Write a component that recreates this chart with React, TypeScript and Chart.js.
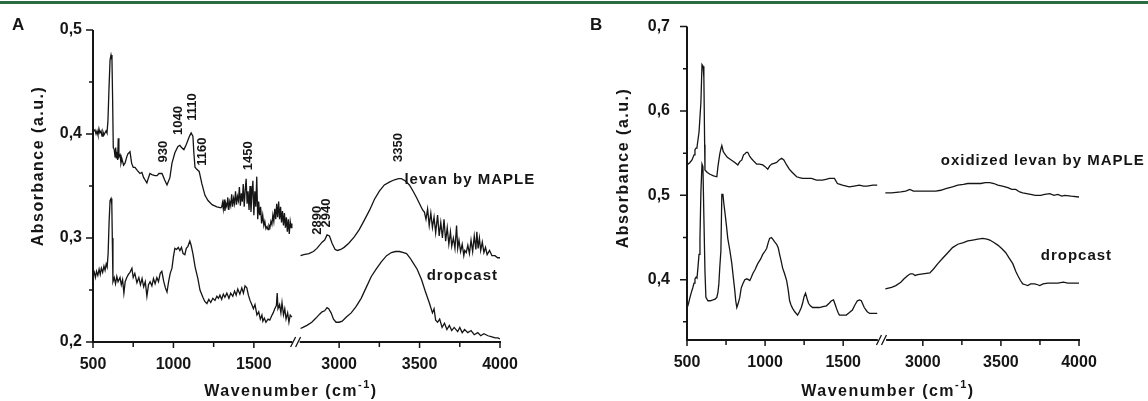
import React, { useEffect, useRef } from "react";
import { Chart, registerables } from "chart.js";
Chart.register(...registerables);

// ---------- DATA (wavenumber cm-1, absorbance a.u.) ----------
const aMapleLeft: [number, number][] = [
  [500,.402],[512,.404],[519,.400],[525,.403],[531,.399],[537,.405],[543,.401],[550,.403],[556,.398],[562,.402],[568,.399],[574,.401],[581,.403],[587,.401],[593,.413],[599,.442],[606,.471],[612,.476],[618,.471],[622,.433],[626,.387],[632,.385],[637,.378],[641,.387],[645,.377],[649,.383],[653,.375],[657,.396],[661,.378],[668,.380],[674,.372],[680,.376],[690,.370],[699,.372],[710,.378],[717,.381],[730,.383],[740,.372],[750,.368],[761,.368],[775,.365],[792,.362],[804,.363],[815,.358],[823,.356],[835,.353],[845,.358],[854,.362],[866,.361],[885,.360],[898,.360],[910,.362],[929,.362],[945,.356],[960,.351],[966,.351],[978,.358],[991,.372],[1009,.382],[1028,.388],[1040,.389],[1050,.387],[1065,.385],[1080,.390],[1100,.398],[1110,.401],[1121,.398],[1127,.382],[1134,.368],[1145,.366],[1160,.364],[1177,.352],[1196,.341],[1215,.336],[1240,.332],[1270,.330],[1295,.329],
  [1300,.330],[1305,.334],[1310,.328],[1315,.337],[1320,.326],[1326,.333],[1332,.330],[1338,.339],[1344,.327],[1350,.335],[1356,.331],[1362,.342],[1368,.330],[1374,.338],[1380,.333],[1386,.345],[1392,.332],[1398,.340],[1404,.336],[1410,.349],[1416,.331],[1422,.343],[1428,.335],[1434,.352],[1440,.330],[1446,.346],[1452,.357],[1458,.333],[1464,.345],[1470,.327],[1476,.350],[1482,.325],[1488,.342],[1494,.355],[1500,.322],[1506,.345],[1512,.330],[1518,.359],[1524,.318],[1530,.335],[1536,.322],[1542,.330],[1548,.314],[1555,.322],[1562,.312],[1568,.316],[1575,.309],[1582,.311],[1588,.308],[1594,.312],[1600,.310],[1606,.316],[1612,.313],[1618,.322],[1624,.316],[1630,.328],[1636,.318],[1642,.333],[1648,.320],[1654,.335],[1660,.318],[1666,.330],[1672,.315],[1678,.326],[1684,.312],[1690,.324],[1696,.310],[1702,.320],[1708,.306],[1714,.318],[1720,.304],[1726,.316],[1732,.310],[1736,.314],
];
const aMapleRight: [number, number][] = [
  [2760,.283],[2780,.284],[2812,.285],[2840,.287],[2862,.290],[2894,.296],[2910,.298],[2925,.303],[2940,.302],[2956,.295],[2975,.289],[2990,.288],[3010,.289],[3031,.291],[3060,.295],[3094,.301],[3125,.308],[3156,.317],[3190,.327],[3219,.337],[3250,.345],[3281,.351],[3315,.354],[3344,.356],[3370,.357],[3387,.357],[3410,.355],[3437,.351],[3460,.345],[3481,.339],[3500,.333],[3519,.327],
  [3530,.325],[3540,.318],[3550,.328],[3560,.312],[3570,.324],[3580,.310],[3590,.320],[3600,.305],[3612,.322],[3622,.302],[3632,.315],[3642,.300],[3652,.318],[3662,.297],[3672,.310],[3682,.294],[3692,.306],[3700,.292],[3710,.300],[3720,.290],[3730,.312],[3737,.290],[3745,.298],[3755,.287],[3765,.294],[3775,.283],[3781,.288],[3790,.286],[3800,.293],[3810,.285],[3820,.298],[3830,.287],[3840,.302],[3850,.289],[3856,.306],[3864,.290],[3872,.300],[3880,.288],[3890,.296],[3900,.286],[3910,.291],[3920,.284],[3935,.288],[3950,.283],[3969,.283],[3985,.281],[4000,.281],
];
const aDropLeft: [number, number][] = [
  [500,.263],[508,.267],[515,.262],[522,.268],[530,.264],[538,.270],[545,.265],[552,.271],[560,.267],[568,.273],[575,.269],[582,.275],[588,.272],[594,.285],[600,.315],[606,.336],[612,.338],[617,.332],[620,.300],[624,.258],[632,.262],[640,.256],[648,.263],[656,.258],[668,.262],[676,.255],[684,.260],[692,.247],[700,.258],[710,.262],[720,.265],[730,.267],[742,.271],[750,.262],[760,.266],[773,.257],[785,.262],[795,.255],[805,.261],[815,.253],[825,.258],[835,.244],[845,.255],[855,.258],[866,.254],[876,.261],[886,.256],[897,.262],[907,.258],[918,.266],[928,.268],[940,.258],[950,.252],[960,.248],[970,.258],[980,.266],[991,.271],[1000,.282],[1009,.290],[1020,.289],[1030,.291],[1040,.288],[1050,.291],[1060,.285],[1071,.284],[1080,.290],[1090,.292],[1102,.297],[1110,.293],[1121,.285],[1135,.272],[1152,.261],[1165,.250],[1183,.243],[1195,.239],[1208,.237],[1220,.241],[1232,.238],[1245,.242],[1258,.240],[1270,.244],[1280,.242],[1289,.245],[1300,.241],[1310,.246],[1320,.243],[1332,.247],[1345,.242],[1356,.247],[1369,.244],[1380,.249],[1390,.245],[1400,.251],[1413,.246],[1425,.252],[1435,.247],[1445,.254],[1456,.252],[1466,.245],[1476,.240],[1487,.236],[1497,.232],[1507,.236],[1519,.226],[1530,.229],[1540,.222],[1550,.226],[1556,.220],[1565,.223],[1575,.219],[1588,.222],[1599,.221],[1610,.225],[1620,.228],[1630,.232],[1640,.235],[1645,.247],[1650,.232],[1660,.236],[1668,.228],[1675,.238],[1684,.226],[1692,.232],[1700,.222],[1710,.228],[1718,.219],[1726,.226],[1736,.224],
];
const aDropRight: [number, number][] = [
  [2760,.213],[2775,.214],[2800,.216],[2830,.219],[2856,.223],[2880,.227],[2894,.229],[2910,.230],[2925,.233],[2935,.232],[2950,.228],[2965,.222],[2981,.219],[3000,.219],[3019,.220],[3045,.224],[3075,.228],[3105,.234],[3137,.242],[3170,.253],[3200,.263],[3230,.270],[3262,.277],[3295,.283],[3325,.286],[3350,.287],[3375,.287],[3400,.286],[3419,.285],[3440,.281],[3456,.277],[3485,.270],[3512,.260],[3535,.249],[3562,.237],[3580,.228],[3590,.232],[3600,.221],[3612,.219],[3625,.222],[3640,.214],[3655,.218],[3670,.212],[3685,.216],[3700,.211],[3715,.214],[3737,.210],[3750,.214],[3765,.209],[3780,.212],[3800,.209],[3820,.211],[3840,.207],[3862,.209],[3880,.206],[3900,.208],[3925,.206],[3950,.205],[3970,.204],[3987,.204],[4000,.203],
];
const bOxLeft: [number, number][] = [
  [500,.536],[519,.539],[532,.542],[545,.548],[551,.554],[558,.556],[564,.557],[577,.575],[589,.610],[596,.655],[603,.653],[608,.640],[613,.560],[615,.530],[630,.527],[647,.525],[670,.523],[691,.522],[698,.534],[710,.549],[717,.555],[723,.559],[732,.552],[742,.549],[758,.545],[774,.543],[790,.541],[806,.539],[818,.537],[825,.536],[838,.540],[851,.542],[862,.548],[870,.549],[880,.551],[889,.551],[902,.546],[915,.543],[930,.540],[946,.537],[965,.537],[985,.536],[1000,.534],[1017,.531],[1030,.535],[1042,.537],[1058,.538],[1074,.539],[1090,.542],[1106,.544],[1120,.542],[1138,.536],[1155,.531],[1170,.528],[1186,.525],[1202,.522],[1220,.521],[1240,.520],[1270,.520],[1297,.520],[1329,.518],[1367,.518],[1390,.519],[1412,.520],[1444,.520],[1463,.514],[1480,.513],[1495,.512],[1520,.511],[1540,.510],[1570,.511],[1603,.512],[1630,.511],[1654,.511],[1690,.512],[1718,.512],
];
const bOxRight: [number, number][] = [
  [2760,.503],[2800,.503],[2859,.504],[2890,.505],[2917,.507],[2940,.505],[2968,.505],[3020,.505],[3083,.505],[3115,.506],[3147,.508],[3190,.510],[3224,.512],[3260,.513],[3288,.514],[3330,.514],[3371,.514],[3400,.515],[3429,.515],[3455,.514],[3480,.512],[3510,.511],[3544,.509],[3570,.507],[3595,.507],[3620,.504],[3640,.503],[3665,.502],[3691,.501],[3720,.500],[3755,.500],[3780,.501],[3813,.502],[3840,.500],[3864,.501],[3890,.499],[3909,.500],[3950,.499],[4000,.498],
];
const bDropLeft: [number, number][] = [
  [500,.366],[510,.372],[519,.379],[528,.385],[538,.391],[545,.396],[551,.401],[558,.403],[564,.402],[570,.414],[577,.430],[583,.449],[589,.504],[596,.537],[602,.534],[608,.475],[615,.410],[621,.379],[634,.375],[650,.375],[666,.376],[680,.377],[691,.379],[698,.385],[704,.395],[710,.415],[717,.434],[723,.501],[730,.501],[736,.490],[742,.481],[752,.465],[761,.449],[775,.434],[787,.419],[797,.402],[806,.387],[812,.375],[819,.367],[828,.372],[838,.379],[847,.390],[857,.395],[870,.400],[883,.401],[893,.400],[902,.399],[912,.403],[921,.407],[936,.412],[953,.419],[970,.424],[985,.430],[1000,.434],[1010,.437],[1020,.444],[1029,.449],[1040,.450],[1049,.448],[1060,.445],[1074,.442],[1084,.438],[1093,.430],[1103,.422],[1112,.414],[1125,.407],[1138,.399],[1148,.388],[1157,.375],[1166,.370],[1176,.366],[1190,.362],[1208,.358],[1220,.362],[1232,.367],[1240,.372],[1250,.380],[1259,.384],[1268,.378],[1278,.372],[1290,.369],[1304,.367],[1325,.367],[1348,.367],[1370,.368],[1393,.369],[1410,.372],[1425,.375],[1438,.376],[1450,.370],[1457,.366],[1467,.361],[1476,.358],[1500,.358],[1520,.358],[1540,.361],[1559,.364],[1575,.370],[1591,.375],[1605,.376],[1616,.375],[1628,.370],[1635,.367],[1654,.362],[1670,.360],[1686,.360],[1700,.360],[1718,.360],
];
const bDropRight: [number, number][] = [
  [2760,.389],[2800,.391],[2827,.393],[2859,.397],[2880,.401],[2904,.405],[2920,.407],[2936,.407],[2950,.405],[2968,.406],[3000,.407],[3045,.408],[3070,.413],[3096,.419],[3130,.426],[3160,.432],[3190,.438],[3224,.442],[3260,.444],[3288,.446],[3320,.447],[3352,.448],[3384,.449],[3410,.448],[3429,.447],[3455,.444],[3480,.441],[3505,.437],[3531,.432],[3555,.425],[3576,.419],[3595,.410],[3608,.405],[3625,.399],[3640,.395],[3656,.394],[3672,.393],[3690,.395],[3717,.395],[3735,.394],[3749,.393],[3770,.395],[3800,.396],[3830,.396],[3864,.396],[3900,.397],[3928,.396],[3960,.396],[4000,.396],
];

const xMajorTicks = [500, 1000, 1500, 3000, 3500, 4000];
const xMinorTicks = [750, 1250, 3250, 3750];
const aYMajor = [0.2, 0.3, 0.4, 0.5];
const aYMinor = [0.25, 0.35, 0.45];
const bYMajor = [0.4, 0.5, 0.6, 0.7];
const bYMinor = [0.35, 0.45, 0.55, 0.65];

// peak annotations: text, wavenumber position, absorbance position (text centre)
const aPeakText = ["930", "1040", "1110", "1160", "1450", "2890", "2940", "3350"];
const aPeakW = [935, 1028, 1115, 1183, 1469, 2862, 2919, 3369];
const aPeakY = [0.383, 0.413, 0.426, 0.383, 0.379, 0.317, 0.324, 0.387];

const aSeriesText = ["levan by MAPLE", "dropcast"];
const aSeriesW = [3406, 3544];
const aSeriesY = [0.352, 0.260];
const bSeriesText = ["oxidized levan by MAPLE", "dropcast"];
const bSeriesW = [3115, 3755];
const bSeriesY = [0.536, 0.4234];

const FONT = "'Liberation Sans', Arial, sans-serif";
const INK = "#151515";

type Panel = {
  letter: string; left: number; width: number; offset: number; yMin: number; yMax: number;
  top: number; yAxisWidth: number; padRight: number; xAxisHeight: number; yTickPad: number;
  yMajor: number[]; yMinor: number[]; breakStart: number; breakEnd: number;
  series: [number, number][][];
  peaks: { t: string; w: number; y: number }[];
  labels: { t: string; w: number; y: number }[];
  letterX: number; titleX: number; titleY: number; yTitleX: number; yTitleY: number;
};

const panels: Panel[] = [
  {
    letter: "A", left: 0, width: 580, offset: 970, yMin: 0.2, yMax: 0.5, top: 30, yAxisWidth: 93,
    padRight: 80, xAxisHeight: 59, yTickPad: 11, yMajor: aYMajor, yMinor: aYMinor,
    breakStart: 1740, breakEnd: 2755,
    series: [aMapleLeft, aMapleRight, aDropLeft, aDropRight],
    peaks: aPeakText.map((t, i) => ({ t, w: aPeakW[i], y: aPeakY[i] })),
    labels: aSeriesText.map((t, i) => ({ t, w: aSeriesW[i], y: aSeriesY[i] })),
    letterX: 12, titleX: 291, titleY: 396, yTitleX: 39, yTitleY: 166,
  },
  {
    letter: "B", left: 580, width: 568, offset: 990, yMin: 0.3285, yMax: 0.7, top: 23, yAxisWidth: 107,
    padRight: 69, xAxisHeight: 61, yTickPad: 17, yMajor: bYMajor, yMinor: bYMinor,
    breakStart: 1722, breakEnd: 2765,
    series: [bOxLeft, bOxRight, bDropLeft, bDropRight],
    peaks: [],
    labels: bSeriesText.map((t, i) => ({ t, w: bSeriesW[i], y: bSeriesY[i] })),
    letterX: 10, titleX: 308, titleY: 396, yTitleX: 44, yTitleY: 168,
  },
];

function makeDecor(p: Panel) {
  const toX = (w: number) => (w >= 2000 ? w - p.offset : w);
  return {
    id: "decor" + p.letter,
    afterDraw(chart: any) {
      const { ctx, chartArea: ca } = chart;
      const xs = chart.scales.x, ys = chart.scales.y;
      const px = (w: number) => xs.getPixelForValue(toX(w));
      const py = (v: number) => ys.getPixelForValue(v);
      ctx.save();
      ctx.strokeStyle = INK;
      ctx.fillStyle = INK;
      ctx.lineCap = "butt";
      // axes
      ctx.lineWidth = 2;
      const yTop = py(p.yMax);
      ctx.beginPath();
      ctx.moveTo(ca.left, yTop); ctx.lineTo(ca.left, ca.bottom + 1);
      const b1 = px(p.breakStart), b2 = px(p.breakEnd);
      ctx.moveTo(ca.left - 1, ca.bottom); ctx.lineTo(b1, ca.bottom);
      ctx.moveTo(b2, ca.bottom); ctx.lineTo(ca.right + 1, ca.bottom);
      ctx.stroke();
      // break marks
      ctx.lineWidth = 1.3;
      const mid = (b1 + b2) / 2;
      ctx.beginPath();
      for (const c of [mid - 3, mid + 2]) {
        ctx.moveTo(c - 2.5, ca.bottom + 5); ctx.lineTo(c + 2.5, ca.bottom - 5);
      }
      ctx.stroke();
      // ticks
      ctx.lineWidth = 1.5;
      ctx.beginPath();
      for (const v of p.yMajor) { const y = py(v); ctx.moveTo(ca.left - 7, y); ctx.lineTo(ca.left, y); }
      for (const v of p.yMinor) { const y = py(v); ctx.moveTo(ca.left - 4, y); ctx.lineTo(ca.left, y); }
      for (const w of xMajorTicks) { const x = px(w); ctx.moveTo(x, ca.bottom); ctx.lineTo(x, ca.bottom + 6); }
      for (const w of xMinorTicks) { const x = px(w); ctx.moveTo(x, ca.bottom); ctx.lineTo(x, ca.bottom + 5); }
      ctx.stroke();
      // peak labels (rotated)
      ctx.font = `bold 13px ${FONT}`;
      ctx.textAlign = "center";
      ctx.textBaseline = "middle";
      for (const k of p.peaks) {
        ctx.save();
        ctx.translate(px(k.w), py(k.y));
        ctx.rotate(-Math.PI / 2);
        ctx.fillText(k.t, 0, 0);
        ctx.restore();
      }
      // series labels
      ctx.font = `bold 15px ${FONT}`;
      (ctx as any).letterSpacing = "1px";
      ctx.textAlign = "left";
      ctx.textBaseline = "alphabetic";
      for (const k of p.labels) ctx.fillText(k.t, px(k.w), py(k.y));
      // panel letter
      (ctx as any).letterSpacing = "0px";
      ctx.font = `bold 17px ${FONT}`;
      ctx.fillText(p.letter, p.letterX, 30);
      // x title with superscript
      (ctx as any).letterSpacing = "1.5px";
      ctx.font = `bold 16px ${FONT}`;
      const t1 = "Wavenumber (cm";
      const t3 = ")";
      const w1 = ctx.measureText(t1).width;
      const w3 = ctx.measureText(t3).width;
      ctx.font = `bold 11px ${FONT}`;
      const t2 = "-1";
      const w2 = ctx.measureText(t2).width;
      let x0 = p.titleX - (w1 + w2 + w3) / 2;
      ctx.font = `bold 16px ${FONT}`;
      ctx.fillText(t1, x0, p.titleY);
      ctx.font = `bold 11px ${FONT}`;
      ctx.fillText(t2, x0 + w1, p.titleY - 8);
      ctx.font = `bold 16px ${FONT}`;
      ctx.fillText(t3, x0 + w1 + w2, p.titleY);
      // y title
      ctx.save();
      ctx.translate(p.yTitleX, p.yTitleY);
      ctx.rotate(-Math.PI / 2);
      ctx.textAlign = "center";
      ctx.textBaseline = "middle";
      ctx.fillText("Absorbance (a.u.)", 0, 0);
      ctx.restore();
      (ctx as any).letterSpacing = "0px";
      ctx.restore();
    },
  };
}

function makeConfig(p: Panel): any {
  const toX = (w: number) => (w >= 2000 ? w - p.offset : w);
  return {
    type: "line",
    data: {
      datasets: p.series.map((arr) => ({
        data: arr.map(([w, a]) => ({ x: toX(w), y: a })),
        borderColor: INK,
        borderWidth: 1.3,
        pointRadius: 0,
        fill: false,
        tension: 0,
      })),
    },
    options: {
      animation: false,
      responsive: false,
      maintainAspectRatio: false,
      events: [],
      layout: { padding: { left: 0, top: p.top, right: p.padRight, bottom: 0 } },
      plugins: { legend: { display: false }, tooltip: { enabled: false }, title: { display: false } },
      scales: {
        x: {
          type: "linear",
          min: 500,
          max: 4000 - p.offset,
          grid: { display: false, drawTicks: false },
          border: { display: false },
          afterBuildTicks: (s: any) => { s.ticks = xMajorTicks.map((w) => ({ value: toX(w) })); },
          afterFit: (s: any) => { s.height = p.xAxisHeight; },
          ticks: {
            autoSkip: false, maxRotation: 0, padding: 13, color: INK,
            font: { family: FONT, size: 16, weight: "bold" },
            callback: (v: number) => String(Math.round(v > 1800 ? v + p.offset : v)),
          },
        },
        y: {
          type: "linear",
          min: p.yMin,
          max: p.yMax,
          grid: { display: false, drawTicks: false },
          border: { display: false },
          afterBuildTicks: (s: any) => { s.ticks = p.yMajor.map((v) => ({ value: v })); },
          afterFit: (s: any) => { s.width = p.yAxisWidth; },
          ticks: {
            autoSkip: false, padding: p.yTickPad, color: INK,
            font: { family: FONT, size: 16, weight: "bold" },
            callback: (v: number) => v.toFixed(1).replace(".", ","),
          },
        },
      },
    },
    plugins: [makeDecor(p)],
  };
}

function PanelChart({ p }: { p: Panel }) {
  const ref = useRef<HTMLCanvasElement | null>(null);
  useEffect(() => {
    if (!ref.current) return;
    const chart = new Chart(ref.current, makeConfig(p));
    return () => chart.destroy();
  }, [p]);
  return (
    <canvas
      ref={ref}
      width={p.width}
      height={401}
      style={{ position: "absolute", left: p.left, top: 0, width: p.width, height: 401, display: "block" }}
    />
  );
}

export default function App() {
  return (
    <div style={{ position: "absolute", left: 0, top: 0, width: 1148, height: 401, background: "#fff", overflow: "hidden" }}>
      <div style={{ position: "absolute", left: 0, top: 1, width: 1148, height: 3, background: "#2b6b41" }} />
      {panels.map((p) => (
        <PanelChart key={p.letter} p={p} />
      ))}
    </div>
  );
}
